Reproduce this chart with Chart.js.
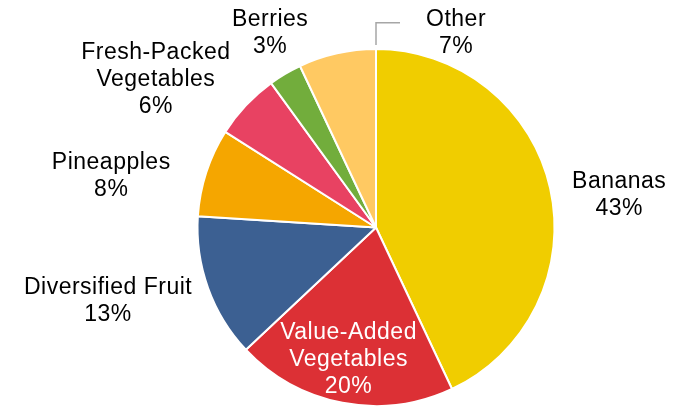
<!DOCTYPE html>
<html>
<head>
<meta charset="utf-8">
<script src="https://cdn.jsdelivr.net/npm/chart.js@4/dist/chart.umd.min.js"></script>
<style>
  body { margin: 0; background: #fff; }
  canvas { display: block; }
</style>
</head>
<body>
<canvas id="myChart" width="678" height="407"></canvas>
<script>
// shares of produce sales by category (percent)
let categories = ['Bananas', 'Value-Added Vegetables', 'Diversified Fruit', 'Pineapples', 'Fresh-Packed Vegetables', 'Berries', 'Other'];
let shares = [43, 20, 13, 8, 6, 3, 7];
let sliceColors = ['#F0CD00', '#DC3035', '#3C6092', '#F5A600', '#E84262', '#72AD3C', '#FFC962'];

// how each category name wraps onto lines
let labelLines = [
  ['Bananas'],
  ['Value-Added', 'Vegetables'],
  ['Diversified Fruit'],
  ['Pineapples'],
  ['Fresh-Packed', 'Vegetables'],
  ['Berries'],
  ['Other']
];
// nudges from the point on the rim at each slice's middle angle
let labelNudge = [[69, 7], [6, -43], [-100, 13], [-95, 4], [-90, -26], [-15, -41], [119, -20]];
let labelColor = ['#000', '#fff', '#000', '#000', '#000', '#000', '#000'];

const fontSize = 23;
const lineGap = 27;

const sliceLabels = {
  id: 'sliceLabels',
  afterDatasetsDraw(chart) {
    let ctx = chart.ctx;
    let arcs = chart.getDatasetMeta(0).data;
    ctx.save();
    ctx.font = fontSize + 'px "Liberation Sans", Arial, sans-serif';
    ctx.letterSpacing = '0.5px';
    ctx.textAlign = 'center';
    ctx.textBaseline = 'middle';
    for (let i = 0; i < arcs.length; i++) {
      let a = arcs[i];
      let mid = (a.startAngle + a.endAngle) / 2;
      let x = a.x + Math.cos(mid) * a.outerRadius + labelNudge[i][0];
      let y = a.y + Math.sin(mid) * a.outerRadius + labelNudge[i][1];
      let lines = labelLines[i].concat([shares[i] + '%']);
      let top = y - (lines.length - 1) * lineGap / 2;
      ctx.fillStyle = labelColor[i];
      for (let j = 0; j < lines.length; j++) {
        ctx.fillText(lines[j], x, top + j * lineGap);
      }
      // leader line for the small slice at the top
      if (categories[i] === 'Other') {
        ctx.strokeStyle = '#A6A6A6';
        ctx.lineWidth = 1.5;
        ctx.beginPath();
        ctx.moveTo(a.x, a.y - a.outerRadius - 4);
        ctx.lineTo(a.x, top + 3);
        ctx.lineTo(a.x + 24, top + 3);
        ctx.stroke();
      }
    }
    ctx.restore();
  }
};

const data = {
  labels: categories,
  datasets: [{
    data: shares,
    backgroundColor: sliceColors,
    borderColor: '#ffffff',
    borderWidth: 2
  }]
};

const config = {
  type: 'pie',
  data: data,
  options: {
    responsive: false,
    animation: false,
    layout: { padding: { top: 48, bottom: 0, left: 74, right: 0 } },
    plugins: {
      legend: { display: false },
      tooltip: { enabled: false }
    }
  },
  plugins: [sliceLabels]
};

let canvasChart = document.getElementById('myChart');
new Chart(canvasChart, config);
</script>
</body>
</html>
